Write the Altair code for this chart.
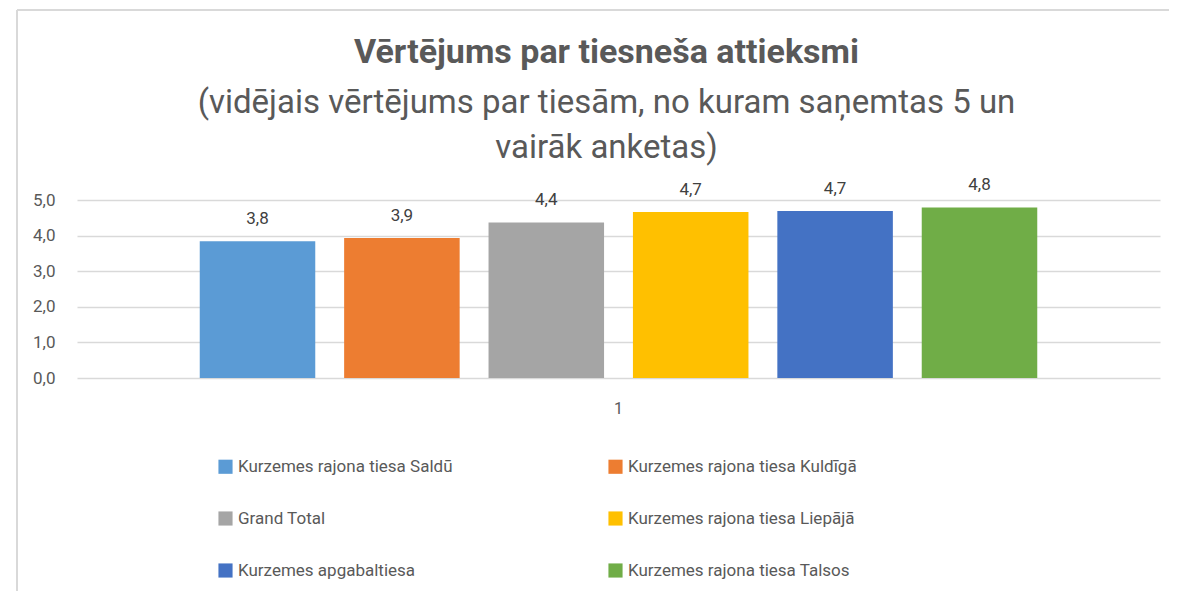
import altair as alt
import pandas as pd

courts = [
    "Kurzemes rajona tiesa Saldū",
    "Kurzemes rajona tiesa Kuldīgā",
    "Grand Total",
    "Kurzemes rajona tiesa Liepājā",
    "Kurzemes  apgabaltiesa",
    "Kurzemes rajona tiesa Talsos",
]
scores = [3.84, 3.93, 4.37, 4.66, 4.69, 4.79]
colors = ["#5B9BD5", "#ED7D31", "#A5A5A5", "#FFC000", "#4472C4", "#70AD47"]
category = ["1"] * 6

df = pd.DataFrame({"cat": category, "court": courts, "score": scores})

FONT = "Roboto"
GREY = "#595959"

y_enc = alt.Y("score:Q", title=None,
              scale=alt.Scale(domain=[0, 5], nice=False),
              axis=alt.Axis(values=[0, 1, 2, 3, 4, 5], ticks=False, domain=False,
                            labelOverlap=False,
                            labelExpr="replace(format(datum.value, '.1f'), '.', ',')",
                            labelPadding=22, labelFontSize=17, labelColor=GREY,
                            labelFont=FONT, gridColor="#D9D9D9", gridWidth=1.3))

base = alt.Chart(df).encode(
    x=alt.X("cat:N", title=None,
            scale=alt.Scale(paddingInner=0, paddingOuter=0.125),
            axis=alt.Axis(labelAngle=0, ticks=False, domain=False, labelPadding=22,
                          labelFontSize=16, labelColor=GREY, labelFont=FONT, grid=False)),
    xOffset=alt.XOffset("court:N", sort=courts,
                        scale=alt.Scale(paddingInner=0.2, paddingOuter=0.1)),
    y=y_enc,
)

bars = base.mark_bar().encode(
    color=alt.Color("court:N", sort=courts,
                    scale=alt.Scale(domain=courts, range=colors),
                    legend=alt.Legend(title=None, orient="none", legendX=140, legendY=258,
                                      columns=2, direction="horizontal",
                                      symbolType="square", symbolSize=200,
                                      symbolStrokeWidth=0, labelFontSize=17,
                                      labelFont=FONT, labelColor=GREY, labelLimit=400,
                                      rowPadding=34, columnPadding=154, symbolOffset=0)),
)

labels = base.mark_text(baseline="bottom", dy=-13, fontSize=17, font=FONT,
                        color="#404040").encode(
    text=alt.Text("lbl:N"),
).transform_calculate(lbl="replace(format(datum.score, '.1f'), '.', ',')")

frame_top = alt.Chart(df).mark_rule(color="#D9D9D9", strokeWidth=2).encode(
    x=alt.value(-60), x2=alt.value(1110), y=alt.value(-190))
frame_left = alt.Chart(df).mark_rule(color="#D9D9D9", strokeWidth=2).encode(
    x=alt.value(-60), y=alt.value(-190), y2=alt.value(400))

chart = alt.layer(frame_top, frame_left, bars, labels).properties(
    width=1083, height=178,
    autosize=alt.AutoSizeParams(type="none"),
    padding={"left": 69, "top": 192, "right": 9, "bottom": 213},
    title=alt.TitleParams(
        text="Vērtējums par tiesneša attieksmi",
        subtitle=["(vidējais vērtējums par tiesām, no kuram saņemtas 5 un",
                  "vairāk anketas)"],
        anchor="middle", frame="group", fontSize=34, font=FONT, fontWeight="bold", color=GREY,
        subtitleFontSize=33, subtitleFont=FONT, subtitleColor=GREY,
        subtitleLineHeight=45, subtitlePadding=17, offset=-156, dx=-12,
    ),
).configure_view(stroke=None)

chart.save("out.html", embed_options={"renderer": "svg", "actions": False})
